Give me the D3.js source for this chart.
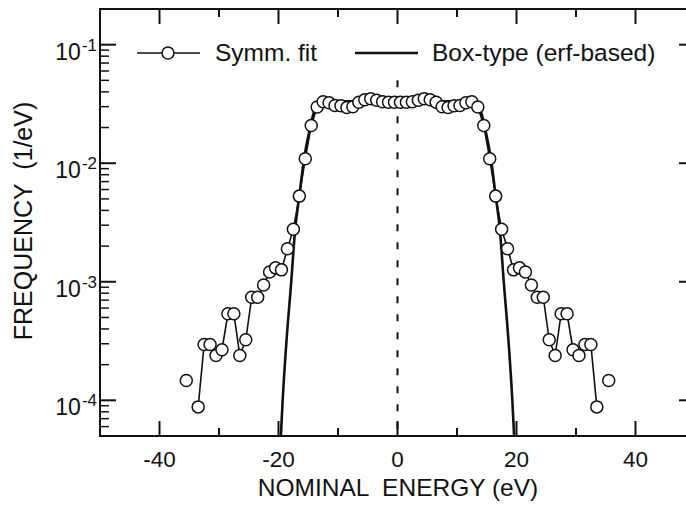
<!DOCTYPE html>
<html>
<head>
<meta charset="utf-8">
<script src="https://cdn.jsdelivr.net/npm/d3@7"></script>
<style>
    body { margin: 0; background: #fff; }
    svg text { font-family: Arial, "Liberation Sans", Helvetica, sans-serif; fill: #111; }
</style>
</head>
<body>
<div id="graph"></div>
<script>
// ########## data #############
// symmetric fit, 1 eV bins (null = empty bin, breaks the line)
const symmX = [
    -35.5, -34.5, -33.5, -32.5, -31.5, -30.5, -29.5, -28.5, -27.5, -26.5, -25.5, -24.5,
    -23.5, -22.5, -21.5, -20.5, -19.5, -18.5, -17.5, -16.5, -15.5, -14.5, -13.5, -12.5,
    -11.5, -10.5, -9.5, -8.5, -7.5, -6.5, -5.5, -4.5, -3.5, -2.5, -1.5, -0.5,
    0.5, 1.5, 2.5, 3.5, 4.5, 5.5, 6.5, 7.5, 8.5, 9.5, 10.5, 11.5,
    12.5, 13.5, 14.5, 15.5, 16.5, 17.5, 18.5, 19.5, 20.5, 21.5, 22.5, 23.5,
    24.5, 25.5, 26.5, 27.5, 28.5, 29.5, 30.5, 31.5, 32.5, 33.5, 34.5, 35.5
];
const symmY = [
    1.47e-4, null, 8.8e-5, 2.96e-4, 2.96e-4, 2.39e-4, 2.67e-4, 5.37e-4, 5.37e-4, 2.39e-4, 3.24e-4, 7.41e-4,
    7.41e-4, 9.4e-4, 1.21e-3, 1.31e-3, 1.26e-3, 1.90e-3, 2.77e-3, 5.28e-3, 1.09e-2, 2.08e-2, 2.98e-2, 3.30e-2,
    3.24e-2, 3.07e-2, 3.05e-2, 2.95e-2, 3.00e-2, 3.27e-2, 3.43e-2, 3.50e-2, 3.40e-2, 3.30e-2, 3.27e-2, 3.27e-2,
    3.27e-2, 3.27e-2, 3.30e-2, 3.40e-2, 3.50e-2, 3.43e-2, 3.27e-2, 3.00e-2, 2.95e-2, 3.05e-2, 3.07e-2, 3.24e-2,
    3.30e-2, 2.98e-2, 2.08e-2, 1.09e-2, 5.28e-3, 2.77e-3, 1.90e-3, 1.26e-3, 1.31e-3, 1.21e-3, 9.4e-4, 7.41e-4,
    7.41e-4, 3.24e-4, 2.39e-4, 5.37e-4, 5.37e-4, 2.67e-4, 2.39e-4, 2.96e-4, 2.96e-4, 8.8e-5, null, 1.47e-4
];

// box-type (erf-based) curve
const boxX = [-20.0, -19.6, -19.3, -18.65, -17.86, -17.2, -16.5, -15.7, -14.6, -14.0, -13.1, -12.3, -11.0,
              0, 11.0, 12.3, 13.1, 14.0, 14.6, 15.7, 16.5, 17.2, 17.86, 18.65, 19.3, 19.6, 20.0];
const boxY = [2.0e-5, 5.0e-5, 1.0e-4, 3.2e-4, 1.0e-3, 2.77e-3, 5.3e-3, 1.09e-2, 2.08e-2, 2.75e-2, 3.13e-2, 3.30e-2, 3.33e-2,
              3.33e-2, 3.33e-2, 3.30e-2, 3.13e-2, 2.75e-2, 2.08e-2, 1.09e-2, 5.3e-3, 2.77e-3, 1.0e-3, 3.2e-4, 1.0e-4, 5.0e-5, 2.0e-5];

const xMajorTicks = [-40, -20, 0, 20, 40];
const xMinorTicks = [-30, -10, 10, 30];
const yMajorTicks = [1e-4, 1e-3, 1e-2, 1e-1];
const yExponents = ["-4", "-3", "-2", "-1"];
const dashTop = 0.05;   // upper end of the dashed line at 0 eV

// ########## layout #############
const width = 686, height = 506;
const pLeft = 100, pRight = 695, pTop = 9, pBottom = 436;

const x = d3.scaleLinear().domain([-50, 50]).range([pLeft, pRight]);
const y = d3.scaleLog().domain([5e-5, 0.2]).range([pBottom, pTop]);

// minor log ticks (2..9 of each decade) inside the domain
var yMinorTicks = [];
for (var e = -5; e <= -1; e++) {
    for (var m = 2; m <= 9; m++) {
        var v = m * Math.pow(10, e);
        if (v >= 5e-5 && v <= 0.2) yMinorTicks.push(v);
    }
}

const svg = d3.select("#graph").append("svg")
        .attr("width", width).attr("height", height)
        .attr("viewBox", `0 0 ${width} ${height}`);

svg.append("clipPath").attr("id", "plotclip")
    .append("rect")
    .attr("x", pLeft).attr("y", pTop)
    .attr("width", pRight - pLeft).attr("height", pBottom - pTop);

// ########## axes #############
const axes = svg.append("g").attr("stroke", "#111").attr("fill", "none");

// frame
axes.append("rect")
    .attr("x", pLeft).attr("y", pTop)
    .attr("width", pRight - pLeft).attr("height", pBottom - pTop)
    .attr("stroke-width", 2);

// x ticks, inward on bottom and top
xMajorTicks.forEach(t => {
    axes.append("line").attr("x1", x(t)).attr("x2", x(t)).attr("y1", pBottom).attr("y2", pBottom - 15).attr("stroke-width", 2);
    axes.append("line").attr("x1", x(t)).attr("x2", x(t)).attr("y1", pTop).attr("y2", pTop + 15).attr("stroke-width", 2);
});
xMinorTicks.forEach(t => {
    axes.append("line").attr("x1", x(t)).attr("x2", x(t)).attr("y1", pBottom).attr("y2", pBottom - 8).attr("stroke-width", 2);
    axes.append("line").attr("x1", x(t)).attr("x2", x(t)).attr("y1", pTop).attr("y2", pTop + 8).attr("stroke-width", 2);
});

// y ticks, inward on left and right
yMajorTicks.forEach(t => {
    axes.append("line").attr("x1", pLeft).attr("x2", pLeft + 16).attr("y1", y(t)).attr("y2", y(t)).attr("stroke-width", 2);
    axes.append("line").attr("x1", pRight).attr("x2", pRight - 16).attr("y1", y(t)).attr("y2", y(t)).attr("stroke-width", 2);
});
yMinorTicks.forEach(t => {
    axes.append("line").attr("x1", pLeft).attr("x2", pLeft + 9).attr("y1", y(t)).attr("y2", y(t)).attr("stroke-width", 1.5);
    axes.append("line").attr("x1", pRight).attr("x2", pRight - 9).attr("y1", y(t)).attr("y2", y(t)).attr("stroke-width", 1.5);
});

// x tick labels
svg.append("g").selectAll("text")
    .data(xMajorTicks).enter()
    .append("text")
    .attr("x", d => x(d)).attr("y", 467)
    .attr("text-anchor", "middle")
    .style("font-size", "22.5px")
    .text(d => d);

// y tick labels: 10 with superscript exponent
const ylab = svg.append("g").selectAll("text")
    .data(yMajorTicks).enter()
    .append("text")
    .attr("x", 97).attr("y", d => y(d) + 15)
    .attr("text-anchor", "end")
    .style("font-size", "23px");
ylab.append("tspan").text("10");
ylab.append("tspan").attr("dy", -9).attr("dx", 1).style("font-size", "17px")
    .text((d, i) => yExponents[i]);

// axis titles
svg.append("text")
    .attr("x", 398).attr("y", 496)
    .attr("text-anchor", "middle")
    .style("font-size", "24.5px")
    .style("white-space", "pre")
    .text("NOMINAL  ENERGY (eV)");

svg.append("text")
    .attr("transform", "translate(32,221) rotate(-90)")
    .attr("text-anchor", "middle")
    .style("font-size", "25px")
    .style("white-space", "pre")
    .text("FREQUENCY  (1/eV)");

// ########## plot #############
const plot = svg.append("g").attr("clip-path", "url(#plotclip)");

// dashed line at 0 eV
plot.append("line")
    .attr("x1", x(0)).attr("x2", x(0))
    .attr("y1", y(dashTop)).attr("y2", pBottom)
    .attr("stroke", "#111").attr("stroke-width", 2)
    .attr("stroke-dasharray", "7,11");

const symmData = symmX.map((v, i) => ({ x: v, y: symmY[i] }));
const boxData = boxX.map((v, i) => ({ x: v, y: boxY[i] }));

// box-type curve
plot.append("path")
    .datum(boxData)
    .attr("fill", "none")
    .attr("stroke", "#111")
    .attr("stroke-width", 2.6)
    .attr("d", d3.line()
        .x(d => x(d.x)).y(d => y(d.y))
        .curve(d3.curveMonotoneX));

// symmetric fit line + circles
plot.append("path")
    .datum(symmData)
    .attr("fill", "none")
    .attr("stroke", "#111")
    .attr("stroke-width", 1.6)
    .attr("d", d3.line()
        .defined(d => d.y !== null)
        .x(d => x(d.x)).y(d => y(d.y)));

plot.selectAll(".pt")
    .data(symmData.filter(d => d.y !== null)).enter()
    .append("circle").attr("class", "pt")
    .attr("cx", d => x(d.x)).attr("cy", d => y(d.y))
    .attr("r", 6)
    .attr("fill", "#fff")
    .attr("stroke", "#111")
    .attr("stroke-width", 1.5);

// ########## legend #############
const legend = svg.append("g");
legend.append("line").attr("x1", 137).attr("x2", 200).attr("y1", 53).attr("y2", 53)
    .attr("stroke", "#111").attr("stroke-width", 1.6);
legend.append("circle").attr("cx", 168).attr("cy", 53).attr("r", 6)
    .attr("fill", "#fff").attr("stroke", "#111").attr("stroke-width", 1.5);
legend.append("text").attr("x", 215).attr("y", 61).style("font-size", "24.5px").text("Symm. fit");

legend.append("line").attr("x1", 355).attr("x2", 418).attr("y1", 53).attr("y2", 53)
    .attr("stroke", "#111").attr("stroke-width", 2.6);
legend.append("text").attr("x", 432).attr("y", 61).style("font-size", "24.5px").text("Box-type (erf-based)");
</script>
</body>
</html>
